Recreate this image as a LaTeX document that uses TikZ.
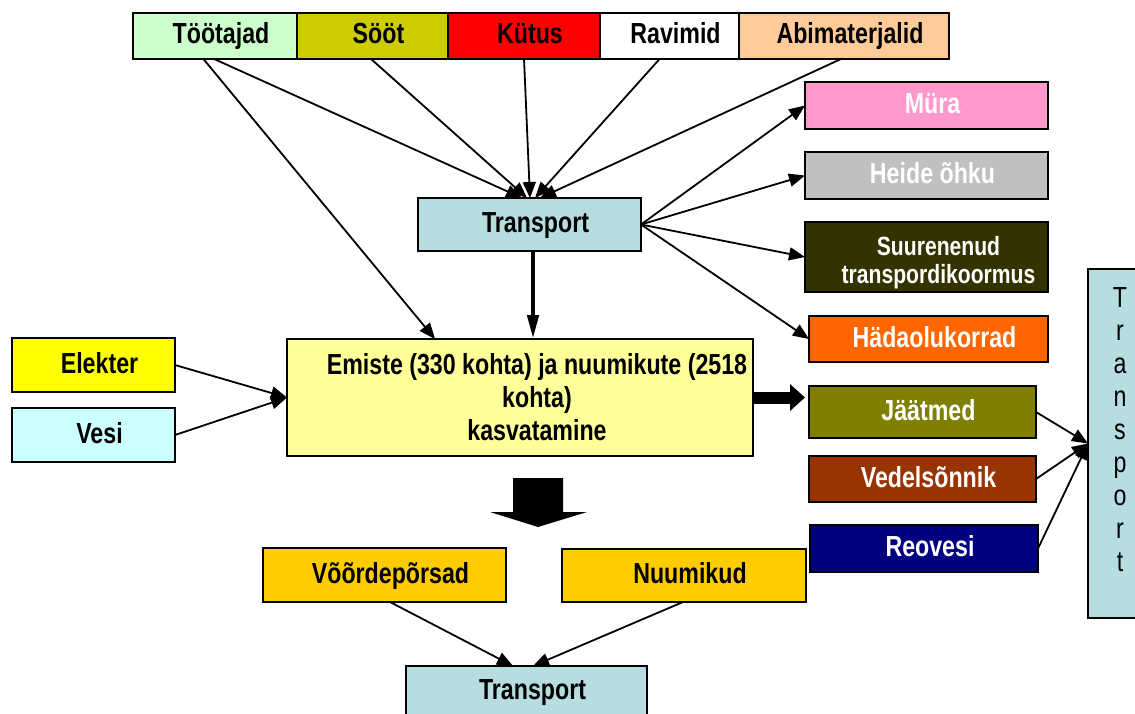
\documentclass[tikz,border=0pt]{standalone}
\usepackage{fontspec}
\setmainfont[FakeStretch=0.8]{Liberation Sans}
\usetikzlibrary{arrows.meta}
\usetikzlibrary{positioning}
\usetikzlibrary{calc}
\definecolor{toocol}{HTML}{CCFFCC}
\definecolor{soocol}{HTML}{CCCC00}
\definecolor{kytcol}{HTML}{FF0000}
\definecolor{abicol}{HTML}{FFCC99}
\definecolor{trcol}{HTML}{B6DDE0}
\definecolor{murcol}{HTML}{FF99CC}
\definecolor{heicol}{HTML}{C0C0C0}
\definecolor{suucol}{HTML}{333300}
\definecolor{hadcol}{HTML}{FF6600}
\definecolor{elecol}{HTML}{FFFF00}
\definecolor{vescol}{HTML}{CCFFFF}
\definecolor{maincol}{HTML}{FFFF99}
\definecolor{jaacol}{HTML}{808000}
\definecolor{vedcol}{HTML}{993300}
\definecolor{reocol}{HTML}{000080}
\definecolor{pigcol}{HTML}{FFCC00}
\tikzstyle{box}=[draw,line width=1pt,inner sep=0pt,outer sep=0pt,font=\fontsize{14.5}{16.5}\selectfont\bfseries,
  text height=11pt,text depth=3pt,execute at begin node={\hspace*{6pt}}]
\tikzstyle{whitetext}=[text=white]

\begin{document}
\begin{tikzpicture}[
  x=0.5pt,y=-0.5pt,
  arr/.style={-{Triangle[length=8pt,width=6.5pt]},line width=0.9pt},
  bigarr/.style={-{Triangle[length=12pt,width=5.5pt]},line width=2.2pt},
  fatarr/.style={-{Triangle[length=7.5pt,width=13pt]},line width=6pt},
]
\path[fill=white,use as bounding box] (0,0) rectangle (1135,713);

% inputs on top
\node[box,fill=toocol,minimum width=82pt,minimum height=23pt] (toot) at (215,35.5) {Töötajad};
\node[box,fill=soocol,minimum width=75.5pt,minimum height=23pt,right=0pt of toot] (soot) {Sööt};
\node[box,fill=kytcol,minimum width=76pt,minimum height=23pt,right=0pt of soot] (kytus) {Kütus};
\node[box,fill=white,minimum width=69.5pt,minimum height=23pt,right=0pt of kytus] (ravim) {Ravimid};
\node[box,fill=abicol,minimum width=105pt,minimum height=23pt,right=0pt of ravim] (abim) {Abimaterjalid};

\node[box,fill=trcol,minimum width=111.5pt,minimum height=26.5pt] (trans1) at (529.5,224.5) {Transport};

% effects of transport
\node[box,whitetext,fill=murcol,minimum width=121.5pt,minimum height=23.5pt] (mura) at (926.5,105.5) {Müra};
\node[box,whitetext,fill=heicol,minimum width=121.5pt,minimum height=23.5pt] (heide) at (926.5,175.5) {Heide õhku};
\node[box,whitetext,fill=suucol,minimum width=121.5pt,minimum height=35pt,text height=,text depth=,
      font=\fontsize{13.2}{14}\selectfont\bfseries,execute at begin node={}] (suur) at (926.5,257)
      {\raisebox{0pt}[\dimexpr\height+7pt\relax][\depth]{\begin{tabular}{@{}c@{}}\hspace*{6pt}Suurenenud\\\hspace*{6pt}transpordikoormus\end{tabular}}};
\node[box,whitetext,fill=hadcol,minimum width=119.5pt,minimum height=23pt] (hada) at (928.5,339) {Hädaolukorrad};

% farm
\node[box,fill=elecol,minimum width=81.5pt,minimum height=27pt] (elekter) at (93.5,365) {Elekter};
\node[box,fill=vescol,minimum width=81.5pt,minimum height=27pt] (vesi) at (93.5,435) {Vesi};
\node[box,fill=maincol,minimum width=233pt,minimum height=58.5pt,align=center,text height=,text depth=,execute at begin node={}] (main) at (520,397.5)
  {\hspace*{11pt}Emiste (330 kohta) ja nuumikute (2518\\\hspace*{11pt}kohta)\\\hspace*{11pt}kasvatamine};

% wastes
\node[box,whitetext,fill=jaacol,minimum width=113.5pt,minimum height=26pt] (jaat) at (922.5,412) {Jäätmed};
\node[box,whitetext,fill=vedcol,minimum width=113.5pt,minimum height=23pt] (vedel) at (922.5,479) {Vedelsõnnik};
\node[box,whitetext,fill=reocol,minimum width=114pt,minimum height=23.5pt] (reo) at (924,548.5) {Reovesi};
\node[box,fill=trcol,minimum width=26pt,minimum height=174.5pt,text height=,text depth=,
      font=\fontsize{14.5}{16.5}\selectfont,execute at begin node={}] (vtrans) at (1114,443.5)
  {\raisebox{0pt}[\height][\dimexpr\depth+11pt\relax]{\begin{tabular}{@{}c@{}}T\\r\\a\\n\\s\\p\\o\\r\\t\end{tabular}}};

% products
\node[box,fill=pigcol,minimum width=121.5pt,minimum height=27pt] (voor) at (384.5,575) {Võõrdepõrsad};
\node[box,fill=pigcol,minimum width=122pt,minimum height=26.5pt] (nuum) at (684,575.5) {Nuumikud};
\node[box,fill=trcol,minimum width=120.5pt,minimum height=25pt] (trans2) at (526.5,691) {Transport};

\draw[arr] ([xshift=-6pt]toot.south) -- ([xshift=-42.5pt]main.north);
\draw[arr] ([xshift=-1pt]toot.south) -- ([xshift=-3.75pt]trans1.north);
\draw[arr] ([xshift=-1pt]soot.south) -- ([xshift=-1.25pt]trans1.north);
\draw[arr] (kytus.south) -- ([xshift=0.25pt]trans1.north);
\draw[arr] ([xshift=-4.75pt]ravim.south) -- ([xshift=2.75pt]trans1.north);
\draw[arr] ([xshift=-1pt]abim.south) -- ([xshift=5.25pt]trans1.north);

\draw[arr] (trans1.east) -- (mura.west);
\draw[arr] (trans1.east) -- (heide.west);
\draw[arr] (trans1.east) -- (suur.west);
\draw[arr] (trans1.east) -- (hada.west);

\coordinate (tdown) at ([xshift=1.75pt]trans1.south);
\draw[bigarr] (tdown) -- (tdown |- main.north);

\draw[arr] (elekter.east) -- (main.west);
\draw[arr] (vesi.east) -- (main.west);
\draw[fatarr,shorten >=2pt] (main.east) -- (main.east -| jaat.west);

\draw[arr] (jaat.east) -- (vtrans.west);
\draw[arr] (vedel.east) -- (vtrans.west);
\draw[arr] (reo.east) -- (vtrans.west);

% block arrow to the pigs
\fill (513,478) -- (563,478) -- (563,512) -- (587,512) -- (538,527) -- (490,512) -- (513,512) -- cycle;

\draw[arr] ([xshift=2.75pt]voor.south) -- ([xshift=-6.75pt]trans2.north);
\draw[arr] ([xshift=-0.5pt]nuum.south) -- ([xshift=3.25pt]trans2.north);
\end{tikzpicture}
\end{document}
